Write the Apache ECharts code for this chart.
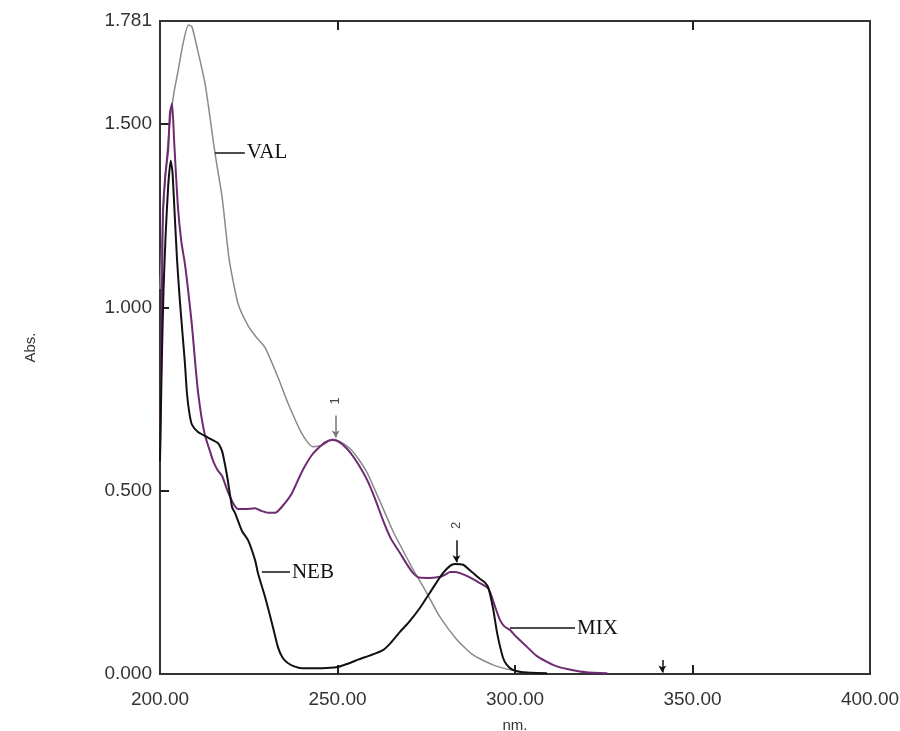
<!DOCTYPE html>
<html>
<head>
<meta charset="utf-8">
<script src="https://cdn.jsdelivr.net/npm/echarts@6/dist/echarts.min.js"></script>
<style>
  html, body { margin: 0; padding: 0; background: #fff; }
  #spectrum { width: 900px; height: 731px; }
</style>
</head>
<body>
<div id="spectrum"></div>
<script>
// wavelength (nm) and absorbance
var valNm = [200, 201, 202, 203, 204, 205, 206.5, 208, 209, 210.4, 212.7, 215.5, 217.5, 219.5, 222, 224.8, 227, 229.6, 233.2, 236, 240, 243, 246, 248.5, 250.5, 253.5, 256, 258.3, 262, 265.6, 268, 271.3, 275.2, 278.9, 283.7, 288.2, 293.8, 299.4, 305];
var valAbs = [1.05, 1.28, 1.42, 1.52, 1.59, 1.64, 1.72, 1.77, 1.765, 1.71, 1.61, 1.42, 1.30, 1.13, 1.01, 0.95, 0.92, 0.89, 0.81, 0.74, 0.655, 0.62, 0.625, 0.64, 0.635, 0.615, 0.585, 0.55, 0.47, 0.39, 0.345, 0.285, 0.22, 0.155, 0.093, 0.052, 0.025, 0.01, 0.002];

var mixNm = [200, 200.4, 200.8, 201.5, 202.3, 202.8, 203.4, 204, 205, 206, 207, 208, 209, 210, 210.7, 211.7, 212.7, 214, 215, 216.3, 217.5, 219, 220.6, 222, 224, 226.8, 228.5, 230.5, 232.5, 235.2, 237, 238, 239.4, 241, 243, 245, 246.5, 248.5, 250, 251.5, 253.5, 256, 258.3, 260.5, 262.8, 265, 267.6, 269.5, 271.3, 273, 276, 279, 280.5, 281.7, 283, 284.5, 287, 290.1, 292.4, 293.5, 294.4, 295.8, 297, 298.6, 300.5, 303.4, 306, 309, 312, 316, 320, 326];
var mixAbs = [0.6, 0.9, 1.25, 1.36, 1.43, 1.53, 1.556, 1.45, 1.28, 1.18, 1.12, 1.04, 0.95, 0.84, 0.77, 0.70, 0.65, 0.61, 0.58, 0.555, 0.54, 0.50, 0.466, 0.45, 0.45, 0.452, 0.445, 0.44, 0.44, 0.466, 0.49, 0.51, 0.54, 0.57, 0.60, 0.62, 0.632, 0.638, 0.635, 0.625, 0.605, 0.57, 0.53, 0.48, 0.42, 0.37, 0.33, 0.30, 0.275, 0.263, 0.262, 0.265, 0.272, 0.278, 0.278, 0.275, 0.265, 0.248, 0.234, 0.21, 0.183, 0.147, 0.13, 0.12, 0.10, 0.074, 0.05, 0.033, 0.02, 0.011, 0.005, 0.002];

var nebNm = [200, 200.5, 201, 201.6, 202.3, 203, 203.5, 204, 204.8, 205.5, 206.2, 207, 207.6, 208.3, 209, 210.7, 213.5, 216.3, 217.2, 217.7, 218.9, 220.3, 221.1, 223.1, 224.8, 226.8, 227.6, 229.6, 231.5, 233.2, 234.5, 236, 238, 240, 245.6, 250, 253.5, 256, 259, 262.8, 265, 267.6, 270, 273.2, 276.9, 279.7, 281.7, 283, 285.4, 287.3, 290.1, 291.5, 292.5, 293.8, 295, 296.6, 297.7, 299.4, 302, 309];
var nebAbs = [0.58, 0.85, 1.05, 1.2, 1.33, 1.40, 1.37, 1.28, 1.13, 1.03, 0.945, 0.85, 0.765, 0.71, 0.68, 0.66, 0.645, 0.63, 0.615, 0.60, 0.54, 0.455, 0.44, 0.39, 0.365, 0.31, 0.275, 0.21, 0.14, 0.074, 0.045, 0.03, 0.02, 0.016, 0.016, 0.019, 0.03, 0.04, 0.05, 0.065, 0.085, 0.115, 0.14, 0.18, 0.235, 0.275, 0.295, 0.3, 0.298, 0.283, 0.26, 0.25, 0.235, 0.18, 0.11, 0.045, 0.025, 0.011, 0.005, 0.002];

var xTicks = [200, 250, 300, 350, 400];
var yTicks = [0, 0.5, 1.0, 1.5, 1.781];

// peak picks: label, wavelength, arrow top, arrow tip
var peakLabels = ['1', '2', ''];
var peakNm = [249.5, 283.5, 341.5];
var peakTop = [0.705, 0.365, 0.038];
var peakTip = [0.645, 0.305, 0.004];

// curve name callouts: from point on curve to start of text
var calloutNames = ['VAL', 'NEB', 'MIX'];
var calloutFrom = [[215.5, 1.422], [228.7, 0.278], [298.6, 0.125]];
var calloutTo = [[223.9, 1.422], [236.6, 0.278], [316.9, 0.125]];

function pairs(xs, ys) {
  return xs.map(function (x, i) { return [x, ys[i]]; });
}

function callout(i) {
  return {
    silent: true,
    symbol: ['none', 'none'],
    lineStyle: { color: '#111', width: 1.5, type: 'solid' },
    label: {
      show: true, position: 'end', distance: 2,
      formatter: calloutNames[i],
      fontFamily: 'Liberation Serif', fontSize: 21, color: '#111'
    },
    data: [[{ coord: calloutFrom[i] }, { coord: calloutTo[i] }]]
  };
}

var arrowLines = [];
var arrowTexts = [];
for (var k = 0; k < peakNm.length; k++) {
  arrowLines.push([
    { coord: [peakNm[k], peakTop[k]], lineStyle: { color: k === 0 ? '#777' : '#111' } },
    { coord: [peakNm[k], peakTip[k]] }
  ]);
  if (peakLabels[k]) {
    arrowTexts.push({ coord: [peakNm[k], peakTop[k] + 0.04], value: peakLabels[k] });
  }
}

var myChart = echarts.init(document.getElementById('spectrum'));

var option = {
  animation: false,
  backgroundColor: '#fff',
  grid: {
    left: 160, right: 30, top: 21, bottom: 57,
    outerBoundsMode: 'none', containLabel: false,
    show: true, borderColor: '#333', borderWidth: 2
  },
  xAxis: [{
    type: 'value', min: 200, max: 400, interval: 50,
    name: 'nm.', nameLocation: 'middle', nameGap: 44,
    nameTextStyle: { fontFamily: 'Liberation Sans', fontSize: 15, color: '#333' },
    axisLine: { show: true, onZero: false, lineStyle: { color: '#333', width: 2 } },
    axisTick: { show: true, inside: true, length: 9, customValues: [250, 300, 350], lineStyle: { color: '#222', width: 2 } },
    axisLabel: {
      customValues: xTicks, margin: 16,
      formatter: function (v) { return v.toFixed(2); },
      fontFamily: 'Liberation Sans', fontSize: 19, color: '#333'
    },
    splitLine: { show: false }
  }, {
    type: 'value', min: 200, max: 400, interval: 50, position: 'top',
    axisLine: { show: true, onZero: false, lineStyle: { color: '#333', width: 2 } },
    axisTick: { show: true, inside: true, length: 9, customValues: [250, 350], lineStyle: { color: '#222', width: 2 } },
    axisLabel: { show: false },
    splitLine: { show: false }
  }],
  yAxis: {
    type: 'value', min: 0, max: 1.781, interval: 0.5,
    name: 'Abs.', nameLocation: 'middle', nameGap: 122, nameRotate: 90,
    nameTextStyle: { fontFamily: 'Liberation Sans', fontSize: 15, color: '#333' },
    axisLine: { show: true, lineStyle: { color: '#333', width: 2 } },
    axisTick: { show: true, inside: true, length: 9, customValues: [0.5, 1.0, 1.5], lineStyle: { color: '#222', width: 2 } },
    axisLabel: {
      customValues: yTicks, margin: 8,
      formatter: function (v) { return v.toFixed(3); },
      fontFamily: 'Liberation Sans', fontSize: 19, color: '#333'
    },
    splitLine: { show: false }
  },
  series: [{
    name: 'VAL', type: 'line', showSymbol: false, smooth: 0.2,
    data: pairs(valNm, valAbs),
    lineStyle: { color: '#8a8a8a', width: 1.5 },
    markLine: callout(0)
  }, {
    name: 'MIX', type: 'line', showSymbol: false, smooth: 0.2,
    data: pairs(mixNm, mixAbs),
    lineStyle: { color: '#6e2a72', width: 2 },
    markLine: callout(2)
  }, {
    name: 'NEB', type: 'line', showSymbol: false, smooth: 0.2,
    data: pairs(nebNm, nebAbs),
    lineStyle: { color: '#111', width: 2 },
    markLine: callout(1),
    markPoint: {
      silent: true, symbol: 'circle', symbolSize: 1,
      itemStyle: { color: 'rgba(0,0,0,0)' },
      label: {
        show: true, position: 'inside', rotate: 90,
        formatter: function (p) { return p.value; },
        fontFamily: 'Liberation Sans', fontSize: 13, color: '#444'
      },
      data: arrowTexts
    }
  }, {
    name: 'peaks', type: 'line', data: [],
    markLine: {
      silent: true,
      symbol: ['none', 'arrow'], symbolSize: [6, 7],
      lineStyle: { color: '#111', width: 1.5, type: 'solid' },
      label: { show: false },
      data: arrowLines
    }
  }]
};

myChart.setOption(option);
</script>
</body>
</html>
